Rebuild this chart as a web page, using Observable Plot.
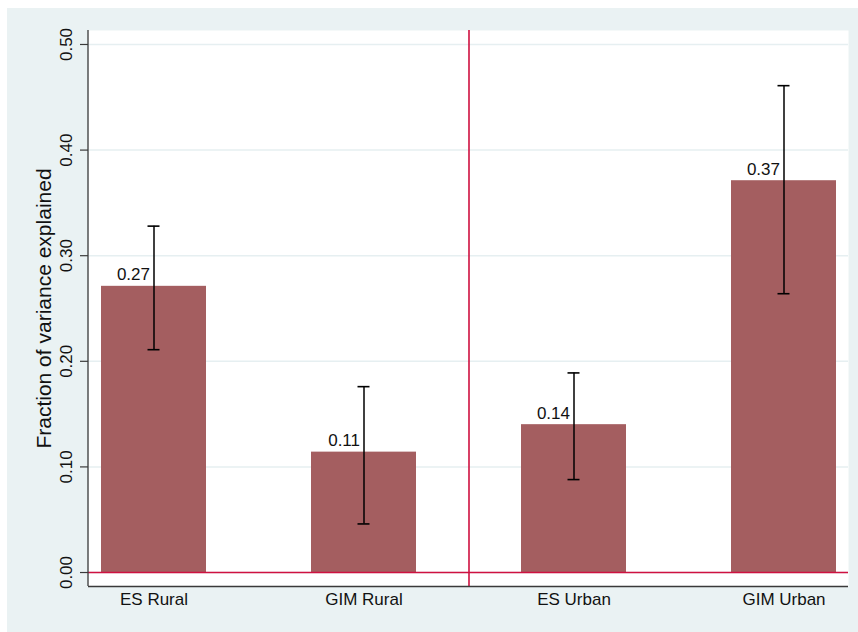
<!DOCTYPE html>
<html>
<head>
<meta charset="utf-8">
<script src="https://cdn.jsdelivr.net/npm/d3@7"></script>
<script src="https://cdn.jsdelivr.net/npm/@observablehq/plot@0.6"></script>
<style>
  html, body { margin: 0; padding: 0; background: #ffffff; }
  #chart { padding-left: 7px; padding-top: 8px; }
  #chart svg { display: block; background: #eaf2f3; font-family: "Liberation Sans", Arial, Helvetica, sans-serif; }
</style>
</head>
<body>
<div id="chart"></div>
<script>
// Data
const categories = ["ES Rural", "GIM Rural", "ES Urban", "GIM Urban"];
const values     = [0.271, 0.114, 0.140, 0.371];
const lower      = [0.211, 0.046, 0.088, 0.264];
const upper      = [0.328, 0.176, 0.189, 0.461];
const labels     = ["0.27", "0.11", "0.14", "0.37"];
const yTicks     = [0, 0.1, 0.2, 0.3, 0.4, 0.5];
const yTitle     = "Fraction of variance explained";
const dividerBefore = "ES Urban";

const rows = categories.map((c, i) => ({cat: c, v: values[i], lo: lower[i], hi: upper[i], label: labels[i]}));

// Layout
const W = 851, H = 624;
const mL = 81, mR = 10, mT = 22, mB = 46;
const padIn = 0.5, padOut = 0.0595;
const plotW = W - mL - mR;
const step = plotW / (categories.length - padIn + 2 * padOut);
const bw = step * (1 - padIn);
const capW = 12;
const pxPerUnit = 1057.6;
const yPad = 14 / pxPerUnit;
const yDomain = [0 - yPad, 0.5 + yPad];

const barColor = "#a45e60";
const red = "#cf1140";
const gridColor = "#e6eff1";
const axisColor = "#3a3a3a";
const textColor = "#111111";

// left axis line drawn through the scales (at the frame's left edge)
function leftAxisLine() {
  return (index, scales, values, dims) => {
    const svg = d3.create("svg:g");
    svg.append("line")
      .attr("x1", dims.marginLeft).attr("x2", dims.marginLeft)
      .attr("y1", scales.y(yDomain[1])).attr("y2", scales.y(yDomain[0]))
      .attr("stroke", axisColor).attr("stroke-width", 1.3);
    return svg.node();
  };
}

const chart = Plot.plot({
  width: W,
  height: H,
  marginLeft: mL, marginRight: mR, marginTop: mT, marginBottom: mB,
  style: {background: "#eaf2f3", fontFamily: '"Liberation Sans", Arial, Helvetica, sans-serif'},
  x: {type: "band", domain: categories, paddingInner: padIn, paddingOuter: padOut, axis: null},
  y: {domain: yDomain, axis: null},
  marks: [
    Plot.frame({fill: "white", stroke: null}),
    // gridlines
    Plot.ruleY(yTicks, {stroke: gridColor, strokeWidth: 1.5}),
    // bars
    Plot.barY(rows, {x: "cat", y1: 0, y2: "v", fill: barColor}),
    // zero line
    Plot.ruleY([0], {stroke: red, strokeWidth: 1.6}),
    // divider
    Plot.ruleX([dividerBefore], {x: d => d, dx: -step / 2, stroke: red, strokeWidth: 1.6}),
    // error bars
    Plot.ruleX(rows, {x: "cat", y1: "lo", y2: "hi", stroke: "#000", strokeWidth: 1.5}),
    Plot.tickY(rows, {x: "cat", y: "lo", stroke: "#000", strokeWidth: 1.6, insetLeft: (bw - capW) / 2, insetRight: (bw - capW) / 2}),
    Plot.tickY(rows, {x: "cat", y: "hi", stroke: "#000", strokeWidth: 1.6, insetLeft: (bw - capW) / 2, insetRight: (bw - capW) / 2}),
    // value labels
    Plot.text(rows, {x: "cat", y: "v", text: "label", textAnchor: "end", lineAnchor: "bottom", dx: -4, dy: -6, fontSize: 17, fill: textColor}),
    // axes
    leftAxisLine(),
    Plot.ruleY([yDomain[0]], {stroke: axisColor, strokeWidth: 1.3}),
    Plot.axisY(yTicks, {tickSize: 8, tickFormat: () => "", stroke: axisColor, strokeWidth: 1.2}),
    Plot.text(yTicks, {y: d => d, text: d => d3.format(".2f")(d), frameAnchor: "left", dx: -22, rotate: -90, textAnchor: "middle", lineAnchor: "middle", fontSize: 17, fill: textColor}),
    Plot.text(categories, {x: d => d, frameAnchor: "bottom", lineAnchor: "top", dy: 6, fontSize: 17, fill: textColor}),
    // y title
    Plot.text([yTitle], {frameAnchor: "left", dx: -44, rotate: -90, textAnchor: "middle", lineAnchor: "middle", fontSize: 21, fill: textColor})
  ]
});

document.getElementById("chart").appendChild(chart);
</script>
</body>
</html>
